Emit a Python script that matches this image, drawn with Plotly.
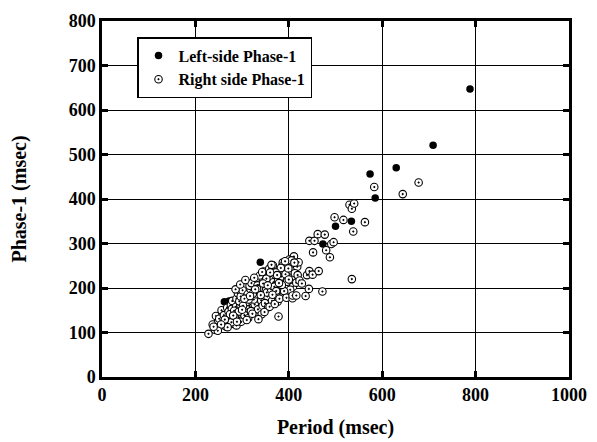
import plotly.graph_objects as go

# Left-side Phase-1 (filled)
left_period = [788, 709, 630, 574, 585, 534, 500, 473, 339, 262, 272, 343, 358]
left_phase1 = [647, 521, 470, 456, 402, 350, 339, 299, 258, 169, 171, 153, 233]

# Right side Phase-1 (open)
right_period = [
    228, 246, 237, 242, 249, 244, 253, 258, 251, 262, 256, 266, 261, 268, 273, 259,
    271, 276, 282, 278, 285, 279, 287, 274, 292, 288, 283, 296, 291, 299, 294, 303,
    297, 288, 306, 301, 309, 304, 312, 298, 315, 308, 318, 311, 305, 321, 316, 324,
    313, 327, 320, 331, 325, 334, 319, 337, 329, 341, 333, 344, 338, 347, 342, 351,
    336, 354, 346, 357, 349, 361, 353, 364, 358, 367, 362, 371, 356, 374, 366, 377,
    369, 381, 373, 384, 378, 387, 382, 391, 376, 394, 386, 397, 389, 401, 393, 404,
    398, 407, 402, 411, 396, 414, 406, 418, 409, 421, 413, 403, 416, 399, 392, 383,
    372, 363, 352, 345, 332, 323, 314, 302, 293, 284, 277, 269, 263, 255, 248, 239,
    281, 289, 300, 310, 322, 335, 348, 359, 370, 380, 390, 305, 317, 328, 340, 355,
    365, 375, 385, 395, 408, 286, 296, 307, 326, 343, 360, 379, 400, 412, 419, 423,
    378, 408, 416, 428, 436, 439, 443, 444, 444, 451, 452, 455, 462, 464, 472, 477,
    480, 488, 491, 496, 498, 517, 530, 535, 535, 538, 540, 563, 583, 644, 678,
]
right_phase1 = [
    97, 111, 118, 106, 127, 137, 115, 143, 131, 124, 150, 113, 139, 156, 131, 121,
    147, 162, 119, 153, 136, 171, 158, 141, 127, 176, 149, 163, 188, 141, 170, 132,
    181, 116, 156, 195, 168, 146, 186, 124, 161, 176, 198, 152, 139, 171, 205, 186,
    132, 163, 211, 196, 174, 152, 148, 216, 186, 172, 206, 160, 228, 193, 141, 219,
    199, 181, 237, 204, 166, 226, 190, 171, 243, 213, 197, 230, 157, 184, 251, 218,
    203, 241, 193, 226, 178, 257, 209, 236, 169, 198, 249, 221, 183, 264, 231, 210,
    253, 239, 186, 271, 214, 224, 262, 248, 203, 258, 233, 196, 212, 244, 260, 245,
    235, 252, 221, 210, 198, 187, 174, 160, 147, 134, 123, 112, 129, 118, 104, 113,
    138, 124, 151, 128, 142, 130, 146, 158, 164, 176, 193, 176, 182, 197, 184, 206,
    185, 229, 207, 178, 177, 197, 208, 218, 223, 236, 235, 211, 219, 257, 229, 217,
    136, 183, 183, 210, 182, 229, 198, 238, 306, 230, 280, 306, 321, 238, 192, 320,
    285, 269, 299, 303, 359, 353, 387, 378, 220, 327, 390, 348, 427, 411, 437,
]

x_ticks = [0, 200, 400, 600, 800, 1000]
y_ticks = [0, 100, 200, 300, 400, 500, 600, 700, 800]

font_family = "Liberation Serif, Times New Roman, serif"

fig = go.Figure()
fig.add_trace(go.Scatter(
    x=left_period, y=left_phase1, mode="markers", name="<b>Left-side Phase-1</b>",
    marker=dict(symbol="circle", size=7.5, color="black"),
))
fig.add_trace(go.Scatter(
    x=right_period, y=right_phase1, mode="markers", name="<b>Right side Phase-1</b>",
    marker=dict(symbol="circle-dot", size=7.5, color="white",
                line=dict(color="black", width=1.1)),
))

axis_common = dict(
    showgrid=True, gridcolor="black", gridwidth=1,
    showline=True, linecolor="black", linewidth=2.5, mirror="ticks",
    ticks="inside", ticklen=6, tickwidth=3, tickcolor="black",
    zeroline=False, automargin=False,
    tickfont=dict(family=font_family, size=18, color="black", weight="bold"),
)

fig.update_xaxes(range=[0, 1000], tickvals=x_ticks,
                 title=dict(text="<b>Period (msec)</b>",
                            font=dict(family=font_family, size=20, color="black"),
                            standoff=16),
                 **axis_common)
fig.update_yaxes(range=[0, 800], tickvals=y_ticks,
                 title=dict(text="<b>Phase-1 (msec)</b>",
                            font=dict(family=font_family, size=20, color="black"),
                            standoff=40),
                 **axis_common)

# page body has an 8px margin, so the figure is sized/placed to compensate
fig.update_layout(
    width=589, height=434,
    margin=dict(l=94, r=28, t=13, b=65),
    plot_bgcolor="white", paper_bgcolor="white",
    showlegend=True,
    legend=dict(x=0.075, y=0.955, xanchor="left", yanchor="top",
                bgcolor="white", bordercolor="black", borderwidth=1.5,
                font=dict(family=font_family, size=16, color="black"),
                itemsizing="trace", itemwidth=30, tracegroupgap=0),
)

fig.write_html("out.html")
